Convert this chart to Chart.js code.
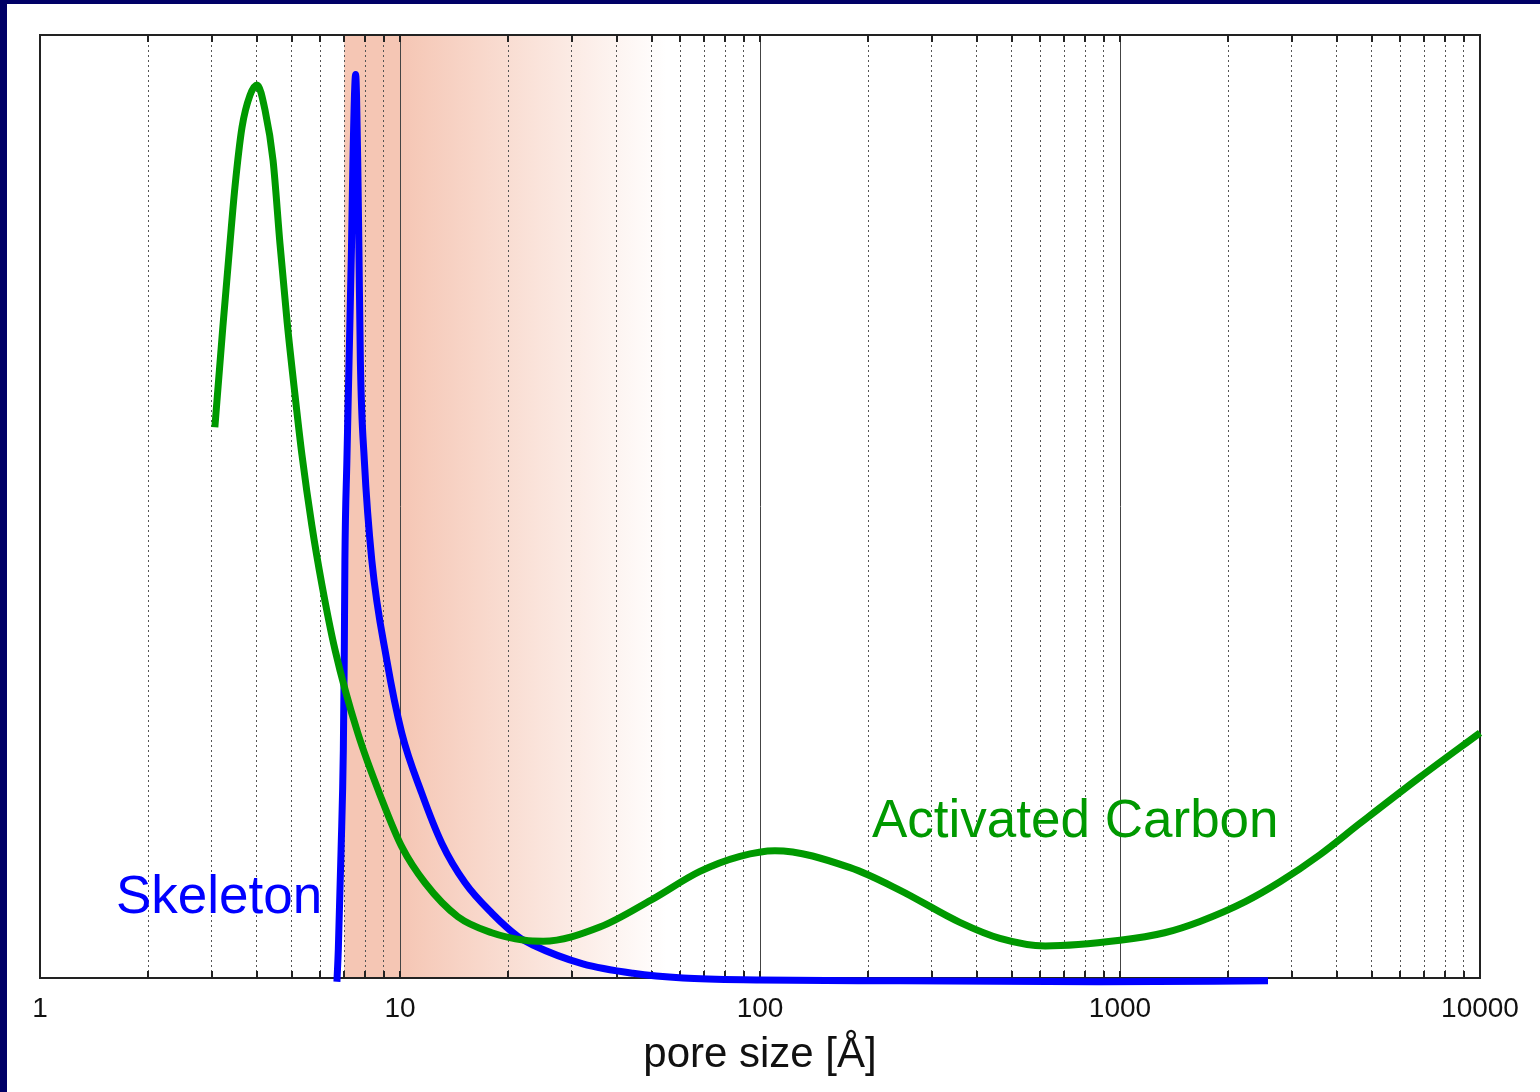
<!DOCTYPE html>
<html>
<head>
<meta charset="utf-8">
<script src="https://cdn.jsdelivr.net/npm/chart.js@4.4.1/dist/chart.umd.min.js"></script>
<style>
  html, body { margin: 0; padding: 0; background: #000066; }
  #wrap { position: absolute; left: 0; top: 0; width: 1540px; height: 1092px; }
</style>
</head>
<body>
<div id="wrap"><canvas id="poreChart" width="1540" height="1092"></canvas></div>
<script>
// pore size in Angstrom (x) and relative distribution (y, no units shown)
const skeletonSize = [6.68, 6.74, 6.86, 6.96, 7.00, 7.03, 7.12, 7.22, 7.33, 7.40, 7.53, 7.63, 7.69, 7.76, 7.96, 8.35, 9.19, 10.11, 11.49, 13.06, 15.16, 17.98, 21.27, 23.4, 32.2, 44.4, 61.1, 100, 245, 880, 2577];
const skeletonValue = [-0.004, 0.030, 0.136, 0.242, 0.337, 0.443, 0.549, 0.655, 0.772, 0.867, 0.958, 0.867, 0.772, 0.655, 0.549, 0.443, 0.337, 0.260, 0.196, 0.143, 0.101, 0.069, 0.044, 0.035, 0.015, 0.005, 0.000, -0.002, -0.003, -0.004, -0.003];

const carbonSize = [3.06, 3.22, 3.37, 3.48, 3.64, 3.83, 4.01, 4.22, 4.44, 4.64, 4.86, 5.11, 5.34, 5.69, 6.07, 6.60, 7.63, 8.91, 10.12, 11.73, 14.48, 17.99, 22.2, 25, 35.9, 50, 68.1, 88, 110, 178, 245, 359, 464, 620, 1000, 1330, 1668, 2230, 2783, 3600, 4642, 6813, 10000];
const carbonValue = [0.584, 0.690, 0.779, 0.839, 0.902, 0.936, 0.947, 0.920, 0.867, 0.779, 0.695, 0.618, 0.555, 0.480, 0.417, 0.348, 0.260, 0.189, 0.139, 0.101, 0.065, 0.048, 0.040, 0.039, 0.054, 0.083, 0.113, 0.129, 0.135, 0.117, 0.093, 0.059, 0.042, 0.034, 0.040, 0.048, 0.060, 0.081, 0.102, 0.131, 0.164, 0.213, 0.260];

const xTicks = [1, 2, 3, 4, 5, 6, 7, 8, 9, 10, 20, 30, 40, 50, 60, 70, 80, 90, 100, 200, 300, 400, 500, 600, 700, 800, 900, 1000, 2000, 3000, 4000, 5000, 6000, 7000, 8000, 9000, 10000];
const shadeFrom = 7, shadeSolidTo = 10, shadeTo = 55;

function isDecade(v) {
    const l = Math.log10(v);
    return Math.abs(l - Math.round(l)) < 1e-9;
}

function toPoints(xs, ys) {
    return xs.map((x, i) => ({x: x, y: ys[i]}));
}

const backdrop = {
    id: 'backdrop',
    beforeDraw(chart) {
        const ctx = chart.ctx;
        const area = chart.chartArea;
        const xs = chart.scales.x;
        ctx.save();
        ctx.fillStyle = '#000066';
        ctx.fillRect(0, 0, chart.width, chart.height);
        ctx.fillStyle = '#ffffff';
        ctx.fillRect(7, 4, chart.width - 7, chart.height - 4);

        // micropore band
        const x0 = xs.getPixelForValue(shadeFrom);
        const x1 = xs.getPixelForValue(shadeSolidTo);
        const x2 = xs.getPixelForValue(shadeTo);
        const g = ctx.createLinearGradient(x0, 0, x2, 0);
        g.addColorStop(0, 'rgba(245,198,180,1)');
        g.addColorStop((x1 - x0) / (x2 - x0), 'rgba(245,198,180,1)');
        g.addColorStop(1, 'rgba(245,198,180,0)');
        ctx.fillStyle = g;
        ctx.fillRect(x0, area.top, x2 - x0, area.bottom - area.top);
        ctx.restore();
    },
    beforeDatasetsDraw(chart) {
        const ctx = chart.ctx;
        const area = chart.chartArea;
        const xs = chart.scales.x;
        ctx.save();
        ctx.strokeStyle = '#222222';
        ctx.lineWidth = 2;
        ctx.beginPath();
        xTicks.forEach(v => {
            const px = Math.round(xs.getPixelForValue(v));
            ctx.moveTo(px, area.top);
            ctx.lineTo(px, area.top + 7);
            ctx.moveTo(px, area.bottom);
            ctx.lineTo(px, area.bottom - 7);
        });
        ctx.stroke();
        ctx.strokeRect(area.left, area.top, area.right - area.left, area.bottom - area.top);
        ctx.restore();
    },
    afterDatasetsDraw(chart) {
        const ctx = chart.ctx;
        ctx.save();
        ctx.font = '53px "Liberation Sans", Arial, sans-serif';
        ctx.textBaseline = 'alphabetic';
        ctx.textAlign = 'left';
        ctx.fillStyle = '#0000ff';
        ctx.fillText('Skeleton', 116, 913);
        ctx.fillStyle = '#009900';
        ctx.fillText('Activated Carbon', 872, 837);
        ctx.restore();
    }
};

new Chart(document.getElementById('poreChart'), {
    type: 'line',
    data: {
        datasets: [{
            label: 'Activated Carbon',
            data: toPoints(carbonSize, carbonValue),
            borderColor: '#009900',
            borderWidth: 7,
            pointRadius: 0,
            fill: false,
            cubicInterpolationMode: 'monotone',
            clip: false
        }, {
            label: 'Skeleton',
            data: toPoints(skeletonSize, skeletonValue),
            borderColor: '#0000ff',
            borderWidth: 7,
            pointRadius: 0,
            fill: false,
            cubicInterpolationMode: 'monotone',
            clip: false
        }]
    },
    options: {
        responsive: false,
        animation: false,
        devicePixelRatio: 1,
        layout: {
            padding: {left: 40, right: 60, top: 35, bottom: 0}
        },
        plugins: {
            legend: {display: false},
            tooltip: {enabled: false}
        },
        scales: {
            x: {
                type: 'logarithmic',
                min: 1,
                max: 10000,
                afterBuildTicks: axis => {
                    axis.ticks = xTicks.map(v => ({value: v, major: isDecade(v)}));
                },
                afterFit: axis => {
                    axis.height = 114;
                },
                grid: {
                    drawTicks: false,
                    color: ctx => (ctx.tick && isDecade(ctx.tick.value)) ? '#444444' : '#555555',
                    lineWidth: 1
                },
                border: {
                    display: false,
                    dash: ctx => (ctx.tick && !isDecade(ctx.tick.value)) ? [2, 3] : []
                },
                ticks: {
                    autoSkip: false,
                    maxRotation: 0,
                    padding: 14,
                    color: '#111111',
                    font: {family: '"Liberation Sans", Arial, sans-serif', size: 28},
                    callback: v => isDecade(v) ? String(v) : ''
                },
                title: {
                    display: true,
                    text: 'pore size [Å]',
                    color: '#111111',
                    font: {family: '"Liberation Sans", Arial, sans-serif', size: 42},
                    padding: {top: 0, bottom: 11}
                }
            },
            y: {
                display: false,
                min: 0,
                max: 1
            }
        }
    },
    plugins: [backdrop]
});
</script>
</body>
</html>
